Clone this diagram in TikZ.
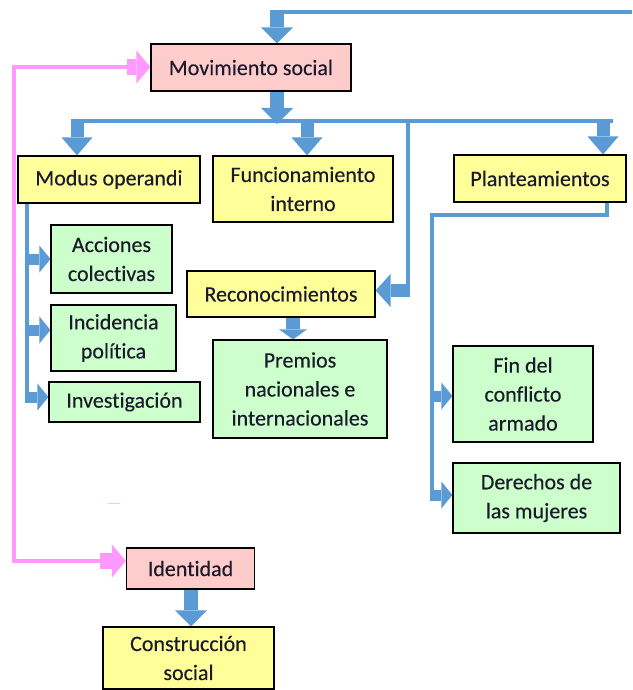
\documentclass[tikz,border=0pt]{standalone}
\usepackage{fontspec}
\setmainfont{Carlito}[Ligatures=NoCommon,FakeBold=0.25]
\usetikzlibrary{arrows.meta}
\definecolor{arrblue}{HTML}{5B9BD5}
\definecolor{pinkline}{HTML}{FF99FF}
\definecolor{boxpink}{HTML}{FFCCCC}
\definecolor{boxyellow}{HTML}{FFFF99}
\definecolor{boxgreen}{HTML}{CCFFCC}
\definecolor{specgreen}{HTML}{B8F0B8}
\definecolor{textdark}{HTML}{1A1A2A}
\begin{document}
\begin{tikzpicture}[x=1pt,y=-1pt,
  box/.style={draw=black, line width=1.2pt, inner sep=0pt, align=center,
    font=\fontsize{22}{29}\selectfont, text=textdark},
  pinkbox/.style={box, fill=boxpink},
  yelbox/.style={box, fill=boxyellow},
  grnbox/.style={box, fill=boxgreen},
  bluethin/.style={draw=arrblue, line width=4.5pt},
  pinkthin/.style={draw=pinkline, line width=4.5pt},
  downarr/.style={draw=arrblue, line width=14pt,
    -{Triangle[width=32pt,length=16pt,line width=0pt]}},
  busarr/.style={draw=arrblue, line width=13pt,
    -{Triangle[width=31pt,length=18pt,line width=0pt]}},
  smallarr/.style={draw=arrblue, line width=14pt,
    -{Triangle[width=28pt,length=10pt,line width=0pt]}},
  sidearr/.style={draw=arrblue, line width=11pt,
    -{Triangle[width=27pt,length=11pt,line width=0pt]}},
  recarr/.style={draw=arrblue, line width=13pt,
    -{Triangle[width=33pt,length=15pt,line width=0pt]}},
  pinkarr/.style={draw=pinkline, line width=16pt,
    -{Triangle[width=33pt,length=14pt,line width=0pt]}}
]
\fill[white] (0,0) rectangle (632,690);
\useasboundingbox (0,0) rectangle (632,690);

% boxes
\node[pinkbox, minimum width=200pt, minimum height=47pt] (mov) at (251,67.5) {Movimiento social};
\node[yelbox, minimum width=182pt, minimum height=47pt] (modus) at (109,179.5) {Modus operandi};
\node[yelbox, minimum width=180pt, minimum height=66pt] (func) at (303,189) {Funcionamiento\\interno};
\node[yelbox, minimum width=172pt, minimum height=47pt] (plant) at (540,178.5) {Planteamientos};
\node[grnbox, minimum width=121pt, minimum height=68pt] (acc) at (111.5,259) {Acciones\\colectivas};
\node[grnbox, minimum width=125pt, minimum height=66pt] (inc) at (113.5,338) {Incidencia\\política};
\node[grnbox, minimum width=151pt, minimum height=40pt] (inv) at (124.5,402) {Investigación};
\node[yelbox, minimum width=188pt, minimum height=46pt] (rec) at (281,294) {Reconocimientos};
\node[grnbox, minimum width=174pt, minimum height=98pt] (prem) at (300,389) {Premios\\nacionales e\\internacionales};
\node[grnbox, minimum width=140pt, minimum height=96pt] (fin) at (523,394) {Fin del\\conflicto\\armado};
\node[grnbox, minimum width=167pt, minimum height=70pt] (der) at (536.5,498) {Derechos de\\las mujeres};
\node[pinkbox, minimum width=128pt, minimum height=41pt] (ident) at (190.5,568.5) {Identidad};
\node[yelbox, minimum width=171pt, minimum height=62pt] (cons) at (188.5,658) {Construcción\\social};

% top connector
\coordinate (topR) at (632,12);
\coordinate (topJ) at (277,12);
\coordinate (topS) at (277,10);
\draw[bluethin] (topR) -- (topJ);
\draw[downarr] (topS) -- (topS |- mov.north);

% bus
\coordinate (busL) at (71,121);
\coordinate (busR) at (613,121);
\coordinate (movJ) at (277,124);
\draw[bluethin] (busL) -- (busR);
\draw[downarr] (mov.south -| movJ) -- (movJ);
\coordinate (b1) at (77,119);
\coordinate (b2) at (307,119);
\coordinate (b3) at (603,119);
\draw[busarr] (b1) -- (b1 |- modus.north);
\draw[busarr] (b2) -- (b2 |- func.north);
\draw[busarr] (b3) -- (b3 |- plant.north);

% to Reconocimientos
\coordinate (r1) at (408,119);
\coordinate (r2) at (408,297);
\coordinate (r3) at (410.25,290.5);
\draw[bluethin] (r1) -- (r2);
\draw[recarr] (r3) -- (r3 -| rec.east);
\coordinate (rp) at (293,317);
\draw[smallarr] (rec.south -| rp) -- (rp |- prem.north);

% Modus operandi branch
\coordinate (m0) at (27,203);
\coordinate (m1) at (27,401);
\draw[bluethin] (modus.south -| m0) -- (m1);
\coordinate (ma) at (25,259);
\coordinate (mb) at (25,330);
\coordinate (mc) at (25,397);
\draw[sidearr] (ma) -- (ma -| acc.west);
\draw[sidearr] (mb) -- (mb -| inc.west);
\draw[sidearr] (mc) -- (mc -| inv.west);

% Planteamientos branch
\coordinate (p0) at (607,202);
\coordinate (p1) at (607,215);
\coordinate (p2) at (432,215);
\coordinate (p3) at (432,500);
\draw[bluethin, line join=miter] (plant.south -| p0) -- (p1) -- (p2) -- (p3);
\coordinate (pa) at (430,396);
\coordinate (pb) at (430,495);
\draw[sidearr] (pa) -- (pa -| fin.west);
\draw[sidearr] (pb) -- (pb -| der.west);

% pink loop
\coordinate (k0) at (14,67);
\coordinate (k1) at (14,561);
\coordinate (ka) at (127,67);
\coordinate (kb) at (100,561);
\draw[pinkthin, line join=miter] (ka) -- (k0) -- (k1) -- (kb);
\draw[pinkarr] (ka) -- (ka -| mov.west);
\draw[pinkarr] (kb) -- (kb -| ident.west);

% Identidad -> Construccion
\coordinate (ic) at (191,589);
\draw[downarr] (ident.south -| ic) -- (ic |- cons.north);

% small speck
\draw[specgreen, line width=1pt] (108,503) -- (120,503);
\end{tikzpicture}
\end{document}
